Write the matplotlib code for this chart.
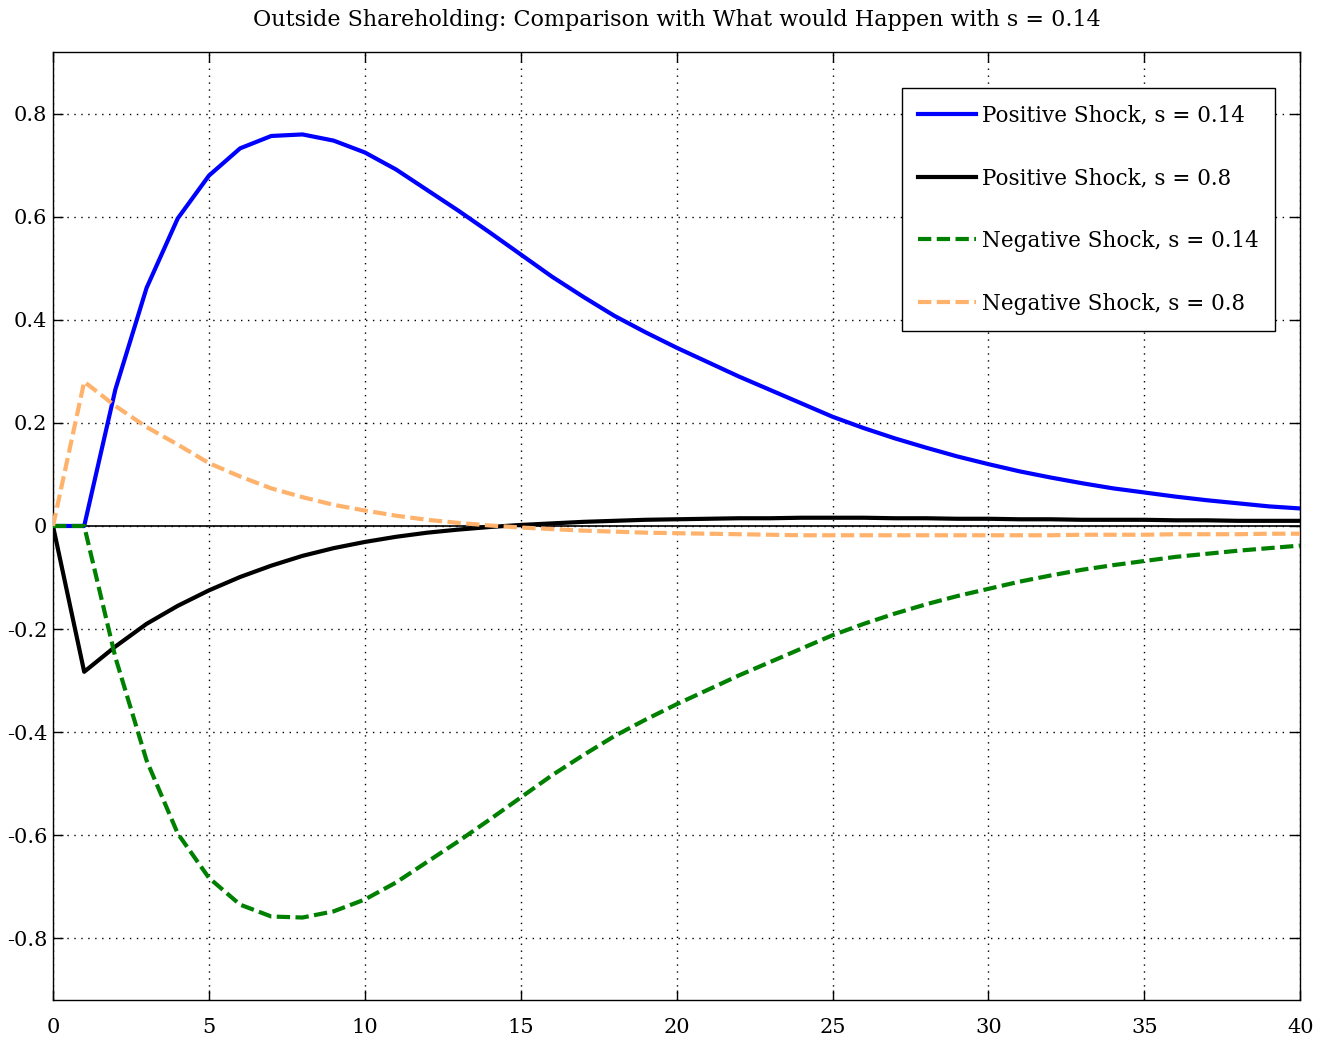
import numpy as np
import matplotlib
matplotlib.use("Agg")
import matplotlib.pyplot as plt

plt.rcParams['font.family'] = ['DejaVu Serif']

t = np.arange(0, 41)

pos_014 = [0.0, 0.0, 0.265, 0.462, 0.597, 0.680, 0.733, 0.757, 0.760, 0.748,
           0.725, 0.692, 0.652, 0.612, 0.570, 0.527, 0.484, 0.445, 0.408, 0.376,
           0.346, 0.318, 0.290, 0.264, 0.238, 0.212, 0.190, 0.170, 0.152, 0.135,
           0.120, 0.106, 0.094, 0.083, 0.073, 0.065, 0.057, 0.050, 0.044, 0.038,
           0.034]
pos_08 = [0.0, -0.283, -0.234, -0.190, -0.155, -0.125, -0.099, -0.077, -0.058, -0.043,
          -0.031, -0.021, -0.013, -0.007, -0.002, 0.002, 0.005, 0.008, 0.010, 0.012,
          0.013, 0.014, 0.015, 0.015, 0.016, 0.016, 0.016, 0.015, 0.015, 0.014,
          0.014, 0.013, 0.013, 0.012, 0.012, 0.012, 0.011, 0.011, 0.010, 0.010,
          0.010]
neg_014 = [0.0, 0.0, -0.255, -0.455, -0.597, -0.683, -0.735, -0.758, -0.760, -0.748,
           -0.725, -0.692, -0.652, -0.612, -0.570, -0.527, -0.484, -0.445, -0.408, -0.376,
           -0.346, -0.318, -0.290, -0.264, -0.238, -0.212, -0.190, -0.170, -0.152, -0.136,
           -0.122, -0.108, -0.096, -0.085, -0.076, -0.068, -0.060, -0.054, -0.048, -0.043,
           -0.038]
neg_08 = [0.0, 0.280, 0.233, 0.192, 0.158, 0.122, 0.096, 0.073, 0.056, 0.041,
          0.030, 0.020, 0.012, 0.006, 0.001, -0.003, -0.006, -0.009, -0.011, -0.013,
          -0.014, -0.015, -0.016, -0.017, -0.018, -0.018, -0.018, -0.018, -0.018, -0.018,
          -0.018, -0.018, -0.018, -0.017, -0.017, -0.017, -0.016, -0.016, -0.016, -0.015,
          -0.015]

labels = ['Positive Shock, s = 0.14', 'Positive Shock, s = 0.8',
          'Negative Shock, s = 0.14', 'Negative Shock, s = 0.8']

xticks = [0, 5, 10, 15, 20, 25, 30, 35, 40]
yticks = [-0.8, -0.6, -0.4, -0.2, 0, 0.2, 0.4, 0.6, 0.8]
ytick_labels = ['-0.8', '-0.6', '-0.4', '-0.2', '0', '0.2', '0.4', '0.6', '0.8']

fig = plt.figure(figsize=(13.32, 10.4), dpi=100)
ax = fig.add_axes([0.0398, 0.0385, 0.9364, 0.9115])

dash = (0, (3.2, 1.3))
ax.plot(t, pos_014, color='blue', lw=3, label=labels[0], zorder=3)
ax.plot(t, pos_08, color='black', lw=3, label=labels[1], zorder=3)
ax.plot(t, neg_014, color='green', lw=3, ls=dash, label=labels[2], zorder=3)
ax.plot(t, neg_08, color='#ffb26b', lw=3, ls=dash, label=labels[3], zorder=3)
ax.axhline(0, color='black', lw=1.2, zorder=2)

ax.set_xlim(0, 40)
ax.set_ylim(-0.92, 0.92)
ax.set_xticks(xticks)
ax.set_yticks(yticks)
ax.set_yticklabels(ytick_labels)
ax.tick_params(direction='in', top=True, right=True, length=7, width=1,
               labelsize=15)
ax.tick_params(axis='x', pad=13)
ax.tick_params(axis='y', pad=4)
ax.grid(True, color='black', ls=(0, (1, 4)), lw=1)
for sp in ax.spines.values():
    sp.set_linewidth(1)

ax.set_title('Outside Shareholding: Comparison with What would Happen with s = 0.14',
             fontsize=16, pad=19)

leg = ax.legend(loc='upper right', bbox_to_anchor=(0.98, 0.962), borderaxespad=0,
                fontsize=15.5, labelspacing=1.9, handlelength=2.7, handletextpad=0.3,
                fancybox=False, framealpha=1, edgecolor='black', borderpad=0.75)
leg.get_frame().set_linewidth(1)

fig.savefig('out.png', dpi=100)
